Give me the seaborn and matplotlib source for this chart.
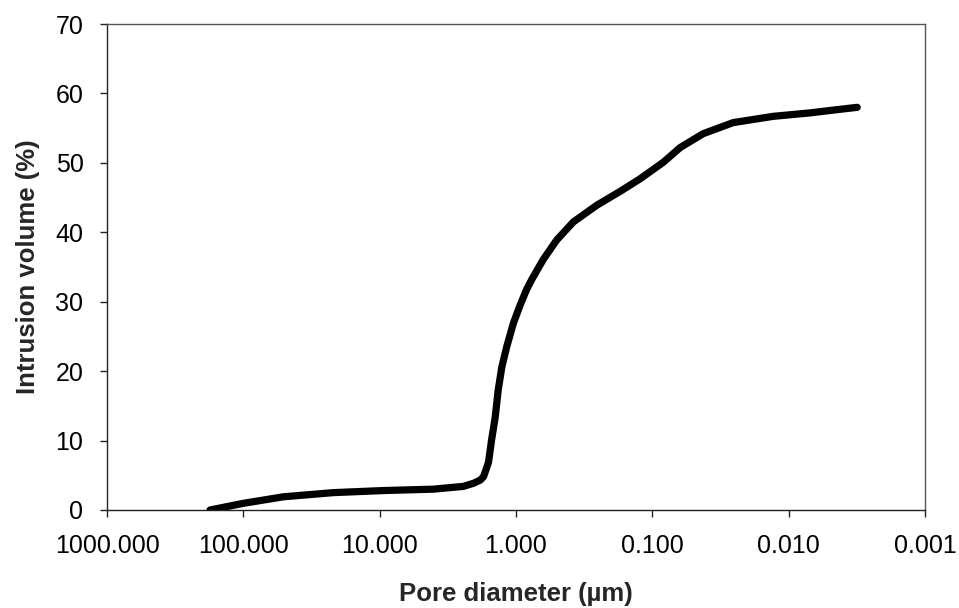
import matplotlib
matplotlib.use("Agg")
import matplotlib.pyplot as plt
import matplotlib.ticker as mticker
import seaborn as sns
import pandas as pd

# Pore diameter (µm) and cumulative intrusion volume (%)
pore_diameter = [175.5, 100.0, 50.9, 21.9, 9.40, 4.04, 2.43, 2.05, 1.83, 1.73,
                 1.66, 1.59, 1.51, 1.42, 1.35, 1.27, 1.17, 1.045, 0.933, 0.834,
                 0.766, 0.630, 0.502, 0.379, 0.255, 0.172, 0.123, 0.0829, 0.0625,
                 0.0424, 0.0255, 0.0130, 0.00695, 0.00471, 0.00314]
intrusion_volume = [0.0, 0.96, 1.9, 2.5, 2.8, 3.0, 3.4, 3.85, 4.3, 4.8,
                    5.8, 6.9, 10.1, 13.4, 17.3, 20.6, 23.5, 26.9, 29.5, 31.8,
                    33.2, 36.1, 38.9, 41.5, 43.9, 45.9, 47.7, 50.1, 52.2,
                    54.2, 55.8, 56.7, 57.2, 57.6, 58.0]
x_ticks = [1000, 100, 10, 1, 0.1, 0.01, 0.001]
y_ticks = [0, 10, 20, 30, 40, 50, 60, 70]

sns.set_theme(style="white")
plt.rcParams['font.family'] = ['Liberation Sans', 'DejaVu Sans']

df = pd.DataFrame({"d": pore_diameter, "v": intrusion_volume})

fig = plt.figure(figsize=(9.59, 6.08), dpi=100)
ax = fig.add_axes([0.1116, 0.1612, 0.8529, 0.7993])
sns.lineplot(data=df, x="d", y="v", ax=ax, sort=False, color="black",
             linewidth=5.2, solid_capstyle="round", solid_joinstyle="round")

ax.set_xscale("log")
ax.set_xlim(1000, 0.001)
ax.set_ylim(0, 70)
ax.set_xticks(x_ticks)
ax.xaxis.set_major_formatter(mticker.FuncFormatter(lambda v, p: f"{v:.3f}"))
ax.xaxis.set_minor_locator(mticker.NullLocator())
ax.set_yticks(y_ticks)

for s in ["left", "bottom"]:
    ax.spines[s].set_color("#222222")
    ax.spines[s].set_linewidth(1.0)
for s in ["top", "right"]:
    ax.spines[s].set_color("#555555")
    ax.spines[s].set_linewidth(1.0)

ax.tick_params(axis="both", which="major", direction="out", length=5, width=1,
               color="#222222", labelsize=18, labelcolor="black")
ax.tick_params(axis="x", bottom=True, pad=12)
ax.tick_params(axis="y", left=True, pad=12)

ax.set_xlabel("Pore diameter (µm)", fontsize=18.5, fontweight="bold")
ax.set_ylabel("Intrusion volume (%)", fontsize=18.5, fontweight="bold")
ax.xaxis.set_label_coords(0.5, -0.173)
ax.xaxis.label.set_va("center")
ax.yaxis.set_label_coords(-0.097, 0.5)
ax.yaxis.label.set_va("center")

fig.savefig("out.png", dpi=100, facecolor="white")
